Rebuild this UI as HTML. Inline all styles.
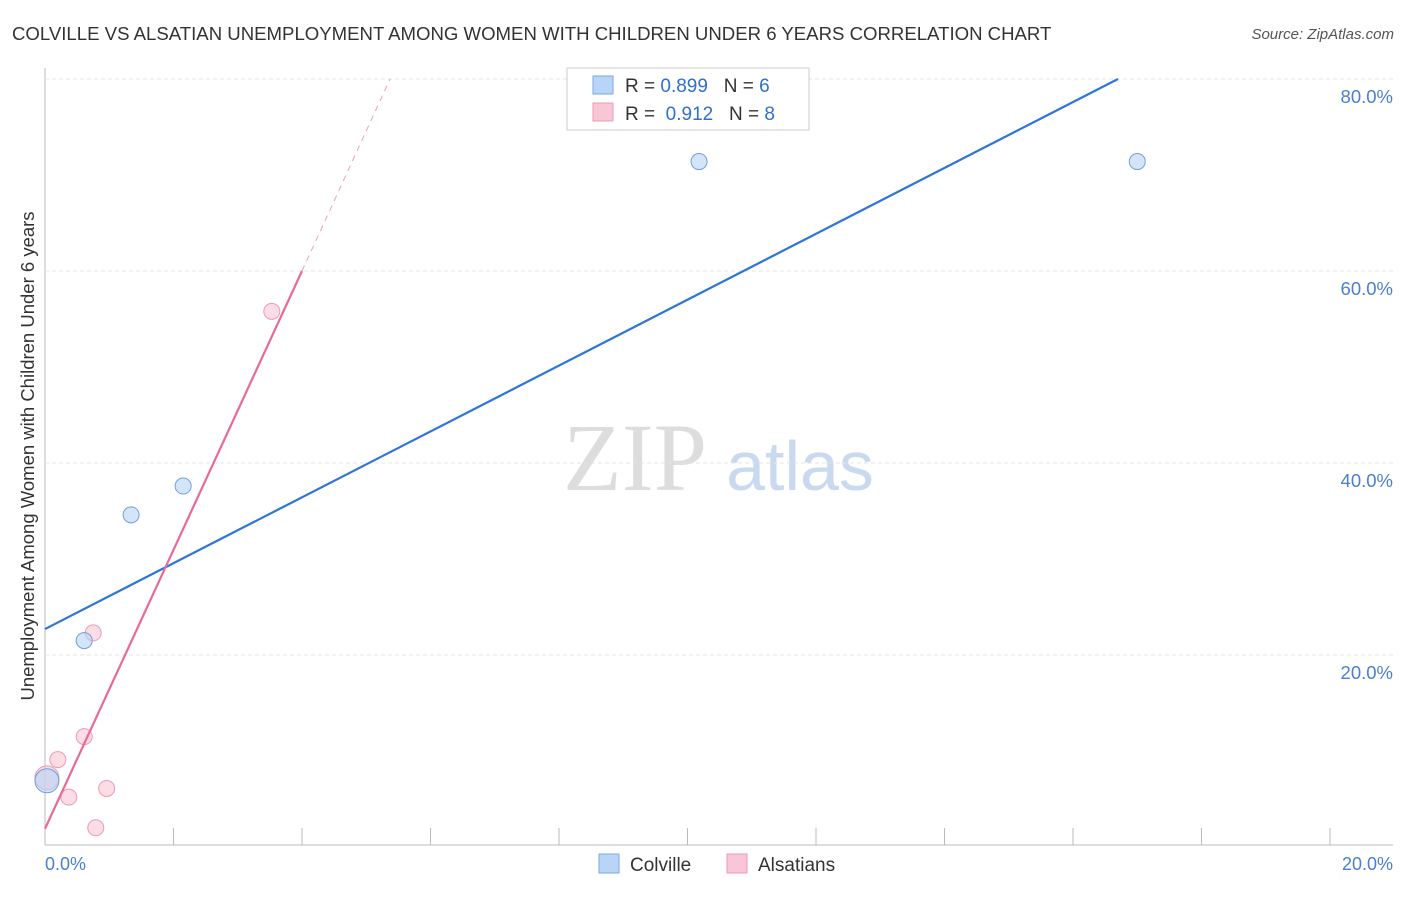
<!DOCTYPE html>
<html><head><meta charset="utf-8"><style>
body{margin:0;background:#fff;font-family:"Liberation Sans",sans-serif;}
</style></head><body>
<svg width="1406" height="892" xmlns="http://www.w3.org/2000/svg" id="chart" font-family="Liberation Sans, sans-serif">
<text x="12" y="40" font-size="18.6" fill="#333">COLVILLE VS ALSATIAN UNEMPLOYMENT AMONG WOMEN WITH CHILDREN UNDER 6 YEARS CORRELATION CHART</text>
<text x="1394" y="39" font-size="15" fill="#555" text-anchor="end" font-style="italic">Source: ZipAtlas.com</text>
<text x="34" y="456" font-size="18.5" fill="#333" text-anchor="middle" transform="rotate(-90 34 456)">Unemployment Among Women with Children Under 6 years</text>
<g><text x="635" y="490" font-size="96" fill="#ddd" font-family="Liberation Serif, serif" text-anchor="middle">ZIP</text><text x="800" y="490" font-size="70" fill="#c9d9f0" text-anchor="middle">atlas</text></g>
<g id="grid"></g><g id="marks"></g>
<g>
<rect x="567" y="68" width="242" height="62" fill="#fff" stroke="#ccc"/>
<rect x="593" y="76" width="20" height="18" fill="#b8d4f7" stroke="#7aaae6"/>
<text x="625" y="92" font-size="19" fill="#333" xml:space="preserve">R = <tspan fill="#2f6fd0">0.899</tspan>   N = <tspan fill="#2f6fd0">6</tspan></text>
<rect x="593" y="103" width="20" height="18" fill="#f9c6d6" stroke="#ec9ab5"/>
<text x="625" y="120" font-size="19" fill="#333" xml:space="preserve">R =  <tspan fill="#2f6fd0">0.912</tspan>   N = <tspan fill="#2f6fd0">8</tspan></text>
</g>
<g>
<rect x="599" y="854" width="20" height="19" fill="#b8d4f7" stroke="#7aaae6"/>
<text x="630" y="871" font-size="19" fill="#333">Colville</text>
<rect x="727" y="854" width="20" height="19" fill="#f9c6d6" stroke="#ec9ab5"/>
<text x="758" y="871" font-size="19" fill="#333">Alsatians</text>
</g>
</svg>
<script>
const xTicks=[0,2,4,6,8,10,12,14,16,18,20];
const yTicks=[20,40,60,80];
const blueX=[0.61,1.34,2.15,10.18,17.0,0.03];
const blueY=[21.5,34.6,37.6,71.4,71.4,6.9];
const pinkX=[3.53,0.75,0.61,0.2,0.37,0.96,0.79,0.03];
const pinkY=[55.8,22.3,11.5,9.1,5.2,6.1,2.0,7.2];
const blueLine=[[0,22.7],[16.7,80]];
const pinkLine=[[0,1.9],[4.0,60]];
const pinkDash=[[4.0,60],[5.37,80]];
const sx=v=>45+v*64.25, sy=v=>847-v*9.6;
const NS="http://www.w3.org/2000/svg";
const g=document.getElementById('grid'), m=document.getElementById('marks');
function el(t,a,p){const e=document.createElementNS(NS,t);for(const k in a)e.setAttribute(k,a[k]);p.appendChild(e);return e;}
let ax=el('line',{x1:45,x2:1393,y1:845,y2:845,stroke:'#bbb'},g);


let ay=el('line',{x1:45,x2:45,y1:68,y2:845,stroke:'#bbb'},g);


xTicks.forEach(t=>{let l=el('line',{x1:sx(t),x2:sx(t),y1:828,y2:845,stroke:'#bbb'},g);

});
[[0,'0.0%',45,'start'],[20,'20.0%',1393,'end']].forEach(d=>{let t=el('text',{x:d[2],y:870,'font-size':18,fill:'#4a80d0','text-anchor':d[3]},g);t.textContent=d[1];

});
yTicks.forEach(v=>{let l=el('line',{x1:45,x2:1393,y1:sy(v),y2:sy(v),stroke:'#e4e4e4','stroke-dasharray':'4,3'},g);


let t=el('text',{x:1393,y:sy(v)+24,'font-size':18.5,fill:'#4a80d0','text-anchor':'end'},g);t.textContent=v.toFixed(1)+'%';

});
function line(d,c,w,dash,n){let l=el('line',{x1:sx(d[0][0]),y1:sy(d[0][1]),x2:sx(d[1][0]),y2:sy(d[1][1]),stroke:c,'stroke-width':w},m);if(dash)l.setAttribute('stroke-dasharray',dash);

}
line(pinkDash,'#f0a0b8',1,'6,5','alsatians-trend-extension');
function pts(X,Y,f,s,n){X.forEach((x,i)=>{let c=el('circle',{cx:sx(x),cy:sy(Y[i]),r:i==X.length-1?12:8,fill:f,stroke:s,'fill-opacity':0.6},m);

});}
pts(pinkX,pinkY,'#f9c6d6','#ec9ab5','alsatians-point');
pts(blueX,blueY,'#b8d4f7','#6f9fdc','colville-point');
line(blueLine,'#2f74d8',2.2,null,'colville-trend-line');
line(pinkLine,'#e86a96',2.2,null,'alsatians-trend-line');
</script>
</body></html>
